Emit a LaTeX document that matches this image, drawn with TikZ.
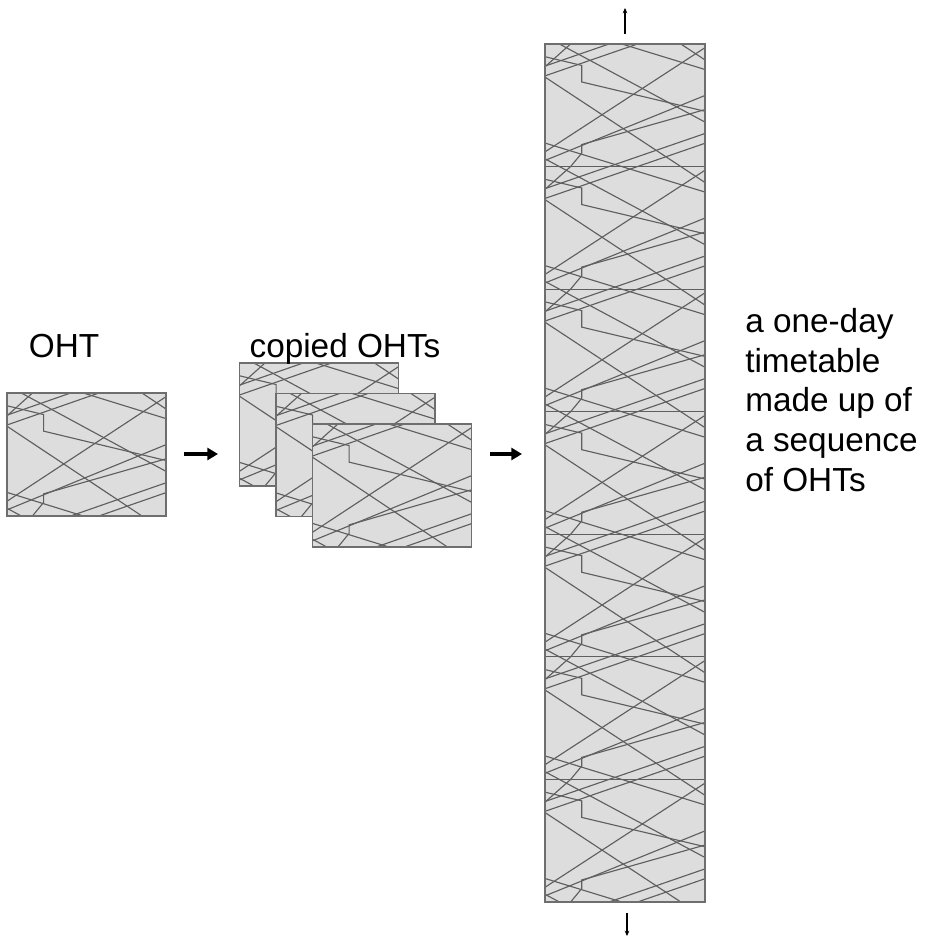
\documentclass[tikz,border=0pt]{standalone}
\usepackage{fontspec}
\setmainfont{Liberation Sans}
\usetikzlibrary{arrows.meta}
\definecolor{boxfill}{RGB}{221,221,221}
\definecolor{trainline}{RGB}{95,95,95}
\definecolor{boxedge}{RGB}{110,110,110}

\newcommand{\ohtlines}{%
  \draw[train] (-0.5,-0.051) -- (0.23,0.175) -- (0.23,0.31) -- (1.5,0.704);
  \draw[train] (1.5,0.35) -- (0.23,0.82) -- (0.23,0.89) -- (0.16,1.0) -- (-0.2,1.418);
  \draw[train] (-0.5,-0.413) -- (1.5,0.987);
  \draw[train] (-0.5,-0.392) -- (1.5,0.408);
  \draw[train] (-0.5,-0.16) -- (1.5,1.56);
  \draw[train] (-0.5,0.485) -- (1.5,-0.415);
  \draw[train] (1.5,-0.395) -- (-0.5,1.305);
  \draw[train] (1.5,0.155) -- (-0.5,1.215);
  \draw[train] (1.5,0.505) -- (-0.5,1.405);
}
\newcommand{\drawpattern}[5]{%
  \begin{scope}[shift={(#1,#2)}, x={(#3*0.75pt,0pt)}, y={(0pt,-#4*0.75pt)}]
    \clip (0,0) rectangle (1,#5);
    \foreach \k in {-1,...,#5} {
      \begin{scope}[shift={(0,\k)}]
        \ohtlines
      \end{scope}
    }
  \end{scope}}

\begin{document}
\begin{tikzpicture}[x=0.75pt,y=-0.75pt]
\tikzset{
  ohtbox/.style={fill=boxfill, inner sep=0pt, outer sep=0pt, minimum width=119.25pt, minimum height=92.25pt},
  train/.style={draw=trainline, line width=0.85pt},
  boxline/.style={draw=boxedge, line width=0.9pt},
  bigarrow/.style={line width=3pt, -{Triangle[length=8pt,width=9pt]}},
  tinyarrow/.style={line width=1pt, -{Stealth[length=4pt,width=3.5pt]}},
  txt/.style={font=\fontsize{25pt}{29.8pt}\selectfont, inner sep=0pt}
}
\useasboundingbox[fill=white] (0,0) rectangle (930,938);

% single OHT
\node[ohtbox] (oht) at (86.5,454.5) {};
\drawpattern{7}{393}{159}{123}{1}
\draw[boxline] (oht.north west) rectangle (oht.south east);

% copied OHTs
\node[ohtbox] (copya) at (319,424.5) {};
\drawpattern{239.5}{363}{159}{123}{1}
\draw[boxline] (copya.north west) rectangle (copya.south east);

\node[ohtbox] (copyb) at (355.5,455) {};
\drawpattern{276}{393.5}{159}{123}{1}
\draw[boxline] (copyb.north west) rectangle (copyb.south east);

\node[ohtbox] (copyc) at (392,485.5) {};
\drawpattern{312.5}{424}{159}{123}{1}
\draw[boxline] (copyc.north west) rectangle (copyc.south east);

% one-day timetable
\node[ohtbox, minimum width=120pt, minimum height=643.5pt] (day) at (625,473) {};
\drawpattern{545}{44}{160}{122.571}{7}
\foreach \k in {1,...,6} {
  \draw[train] (545,{44+\k*122.571}) -- (705,{44+\k*122.571});
}
\draw[boxline] (day.north west) rectangle (day.south east);

% arrows
\coordinate (a1s) at (184,454);
\coordinate (a1e) at (218,454);
\coordinate (a2s) at (490,454);
\coordinate (a2e) at (522,454);
\draw[bigarrow] (a1s) -- (a1e);
\draw[bigarrow] (a2s) -- (a2e);
\coordinate (t1s) at (625,34);
\coordinate (t1e) at (625,8);
\coordinate (b1s) at (627,913);
\coordinate (b1e) at (627,936);
\draw[tinyarrow] (t1s) -- (t1e);
\draw[tinyarrow] (b1s) -- (b1e);

% labels
\node[txt, anchor=base] (ohtlabel) at (64,357) {OHT};
\node[txt, anchor=base] (copylabel) at (345,357) {copied OHTs};
\node[txt, anchor=north west, align=left] (daylabel) at (745,308) {a one-day\\timetable\\made up of\\a sequence\\of OHTs};
\end{tikzpicture}
\end{document}
